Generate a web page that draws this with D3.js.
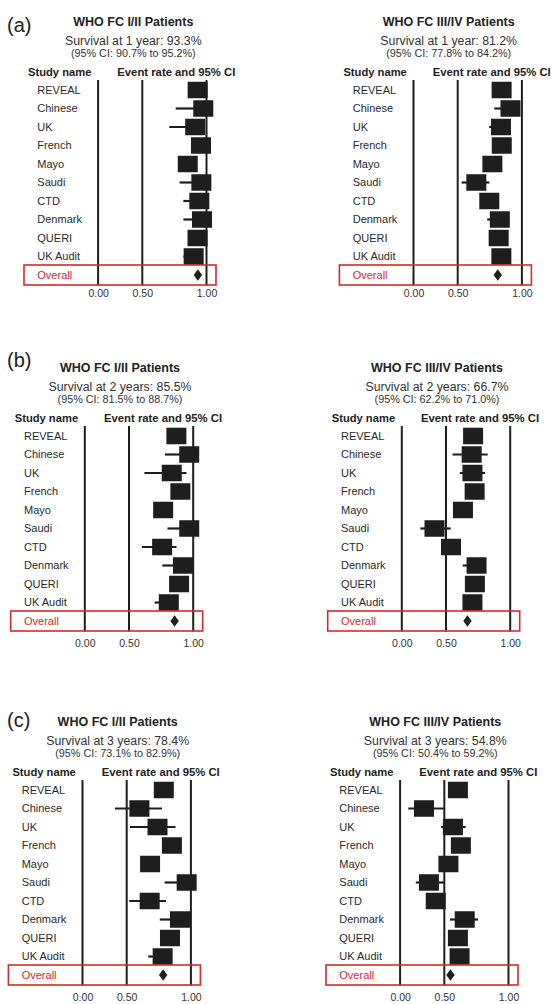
<!DOCTYPE html>
<html><head><meta charset="utf-8">
<script src="https://cdn.jsdelivr.net/npm/d3@7"></script>
<style>
body{margin:0;background:#fff}
text{font-family:"Liberation Sans",Arial,Helvetica,sans-serif}
</style>
</head><body>
<svg id="c" width="552" height="1004"></svg>
<script>
// ---------------- DATA ----------------
const studies = ["REVEAL","Chinese","UK","French","Mayo","Saudi","CTD","Denmark","QUERI","UK Audit"];
const overallLabel = "Overall";
const tickValues = [0, 0.5, 1];
const panelLetters = ["(a)", "(b)", "(c)"];
const groupTitles = ["WHO FC I/II Patients", "WHO FC III/IV Patients"];
const survivalLabels = [
  "Survival at 1 year: 93.3%", "Survival at 1 year: 81.2%",
  "Survival at 2 years: 85.5%", "Survival at 2 years: 66.7%",
  "Survival at 3 years: 78.4%", "Survival at 3 years: 54.8%"
];
const ciLabels = [
  "(95% CI: 90.7% to 95.2%)", "(95% CI: 77.8% to 84.2%)",
  "(95% CI: 81.5% to 88.7%)", "(95% CI: 62.2% to 71.0%)",
  "(95% CI: 73.1% to 82.9%)", "(95% CI: 50.4% to 59.2%)"
];
const headerStudy = "Study name";
const headerRate = "Event rate and 95% CI";

// 1 year, FC I/II
const est1yI  = [0.931, 0.975, 0.912, 0.957, 0.854, 0.960, 0.944, 0.965, 0.930, 0.900];
const lo1yI   = [0.890, 0.760, 0.710, 0.920, 0.800, 0.790, 0.820, 0.820, 0.890, 0.820];
const hi1yI   = [0.960, 0.990, 0.970, 0.980, 0.900, 0.990, 0.980, 0.990, 0.960, 0.940];
const ov1yI   = [0.933, 0.907, 0.952];
// 1 year, FC III/IV
const est1yIII = [0.842, 0.911, 0.837, 0.843, 0.770, 0.645, 0.746, 0.828, 0.819, 0.840];
const lo1yIII  = [0.800, 0.785, 0.745, 0.800, 0.720, 0.530, 0.700, 0.730, 0.770, 0.800];
const hi1yIII  = [0.880, 0.960, 0.880, 0.880, 0.810, 0.747, 0.790, 0.870, 0.860, 0.870];
const ov1yIII  = [0.812, 0.778, 0.842];
// 2 years, FC I/II
const est2yI  = [0.869, 0.969, 0.833, 0.900, 0.766, 0.969, 0.758, 0.920, 0.890, 0.810];
const lo2yI   = [0.830, 0.780, 0.620, 0.860, 0.720, 0.800, 0.600, 0.760, 0.850, 0.700];
const hi2yI   = [0.900, 0.990, 0.948, 0.930, 0.810, 0.990, 0.870, 0.960, 0.920, 0.860];
const ov2yI   = [0.855, 0.815, 0.887];
// 2 years, FC III/IV
const est2yIII = [0.711, 0.700, 0.706, 0.723, 0.632, 0.370, 0.539, 0.738, 0.725, 0.706];
const lo2yIII  = [0.660, 0.551, 0.608, 0.680, 0.580, 0.210, 0.490, 0.630, 0.680, 0.660];
const hi2yIII  = [0.760, 0.825, 0.804, 0.760, 0.680, 0.536, 0.590, 0.780, 0.770, 0.750];
const ov2yIII  = [0.667, 0.622, 0.710];
// 3 years, FC I/II
const est3yI  = [0.789, 0.599, 0.740, 0.852, 0.682, 0.967, 0.679, 0.915, 0.837, 0.780];
const lo3yI   = [0.740, 0.367, 0.525, 0.810, 0.630, 0.795, 0.520, 0.758, 0.790, 0.668];
const hi3yI   = [0.830, 0.775, 0.880, 0.890, 0.730, 0.990, 0.806, 0.960, 0.880, 0.830];
const ov3yI   = [0.784, 0.731, 0.829];
// 3 years, FC III/IV
const est3yIII = [0.606, 0.270, 0.567, 0.629, 0.532, 0.326, 0.403, 0.659, 0.606, 0.619];
const lo3yIII  = [0.550, 0.092, 0.463, 0.580, 0.470, 0.178, 0.350, 0.544, 0.550, 0.560];
const hi3yIII  = [0.660, 0.500, 0.666, 0.680, 0.590, 0.503, 0.460, 0.763, 0.660, 0.670];
const ov3yIII  = [0.548, 0.504, 0.592];

// ---------------- LAYOUT ----------------
const panelData = [
  [est1yI, lo1yI, hi1yI, ov1yI], [est1yIII, lo1yIII, hi1yIII, ov1yIII],
  [est2yI, lo2yI, hi2yI, ov2yI], [est2yIII, lo2yIII, hi2yIII, ov2yIII],
  [est3yI, lo3yI, hi3yI, ov3yI], [est3yIII, lo3yIII, hi3yIII, ov3yIII]
];
const layout = [
  {ox: 37.3, oy: 90, tickDy: 21}, {ox: 352.7, oy: 90, tickDy: 21},
  {ox: 24, oy: 436, tickDy: 25}, {ox: 341, oy: 436, tickDy: 25},
  {ox: 21.7, oy: 790, tickDy: 25}, {ox: 339.3, oy: 790, tickDy: 25}
];
const letterY = [25, 360, 720];
const rowH = 18.5;
const ink = "#1e1e1e";
const red = "#d22b2b";

const svg = d3.select("#c");
svg.append("rect").attr("width", 552).attr("height", 1004).attr("fill", "#fff");

panelLetters.forEach((l, i) => {
  svg.append("text").attr("x", 7).attr("y", letterY[i]).attr("dy", "0.35em")
    .attr("font-size", 20).attr("fill", "#222").text(l);
});

panelData.forEach((pd, p) => {
  const [est, lo, hi, ov] = pd;
  const L = layout[p];
  const g = svg.append("g");
  const x = d3.scaleLinear().domain(tickValues).range([L.ox + 60.8, L.ox + 105, L.ox + 169.2]);
  const rows = studies.concat([overallLabel]);
  const y = d3.scalePoint().domain(rows).range([L.oy, L.oy + rowH * 10]);
  const cx = L.ox + 96;

  // titles
  g.append("text").attr("x", cx).attr("y", L.oy - 68).attr("dy", "0.35em")
    .attr("text-anchor", "middle").attr("font-size", 12.5).attr("font-weight", "bold")
    .attr("fill", "#222").text(groupTitles[p % 2]);
  g.append("text").attr("x", cx).attr("y", L.oy - 49.6).attr("dy", "0.35em")
    .attr("text-anchor", "middle").attr("font-size", 12.3)
    .attr("fill", "#333").text(survivalLabels[p]);
  g.append("text").attr("x", cx).attr("y", L.oy - 36.4).attr("dy", "0.35em")
    .attr("text-anchor", "middle").attr("font-size", 10.8)
    .attr("fill", "#333").text(ciLabels[p]);
  g.append("text").attr("x", L.ox - 9.3).attr("y", L.oy - 18.2).attr("dy", "0.35em")
    .attr("font-size", 11.2).attr("font-weight", "bold").attr("fill", "#222").text(headerStudy);
  g.append("text").attr("x", L.ox + 80).attr("y", L.oy - 18.2).attr("dy", "0.35em")
    .attr("font-size", 11.3).attr("font-weight", "bold").attr("fill", "#222").text(headerRate);

  // reference lines
  g.selectAll(".ref").data(tickValues).enter().append("line")
    .attr("x1", d => x(d)).attr("x2", d => x(d))
    .attr("y1", L.oy - 10).attr("y2", y(overallLabel) + 10.5)
    .attr("stroke", ink).attr("stroke-width", 2);

  // study labels
  g.selectAll(".nm").data(studies).enter().append("text")
    .attr("x", L.ox).attr("y", d => y(d)).attr("dy", "0.35em")
    .attr("font-size", 11).attr("fill", "#2a2a2a").text(d => d);

  // whiskers
  g.selectAll(".wh").data(studies).enter().append("line")
    .attr("x1", (d, i) => x(lo[i])).attr("x2", (d, i) => x(hi[i]))
    .attr("y1", d => y(d)).attr("y2", d => y(d))
    .attr("stroke", ink).attr("stroke-width", 2.2);

  // boxes
  const bw = 20, bh = 16.5;
  g.selectAll(".bx").data(studies).enter().append("rect")
    .attr("x", (d, i) => x(est[i]) - bw / 2).attr("y", d => y(d) - bh / 2)
    .attr("width", bw).attr("height", bh).attr("fill", ink);

  // overall row
  const oy = y(overallLabel);
  g.append("rect").attr("x", L.ox - 13.3).attr("y", oy - 10).attr("width", 192).attr("height", 20)
    .attr("fill", "none").attr("stroke", red).attr("stroke-width", 1.6);
  g.append("text").attr("x", L.ox).attr("y", oy).attr("dy", "0.35em")
    .attr("font-size", 11).attr("fill", red).text(overallLabel);
  const dx = x(ov[0]);
  g.append("path")
    .attr("d", `M${dx - 4.2},${oy} L${dx},${oy - 5.8} L${dx + 4.2},${oy} L${dx},${oy + 5.8} Z`)
    .attr("fill", ink);

  // axis tick labels
  const axis = d3.axisBottom(x).tickValues(tickValues).tickFormat(d3.format(".2f")).tickSize(0).tickPadding(0);
  const ag = g.append("g").attr("transform", `translate(0,${oy + L.tickDy - 6})`).call(axis);
  ag.select(".domain").remove();
  ag.selectAll("text").attr("font-size", 10.5).attr("fill", "#333")
    .attr("font-family", '"Liberation Sans",Arial,sans-serif');
});
</script>
</body></html>
